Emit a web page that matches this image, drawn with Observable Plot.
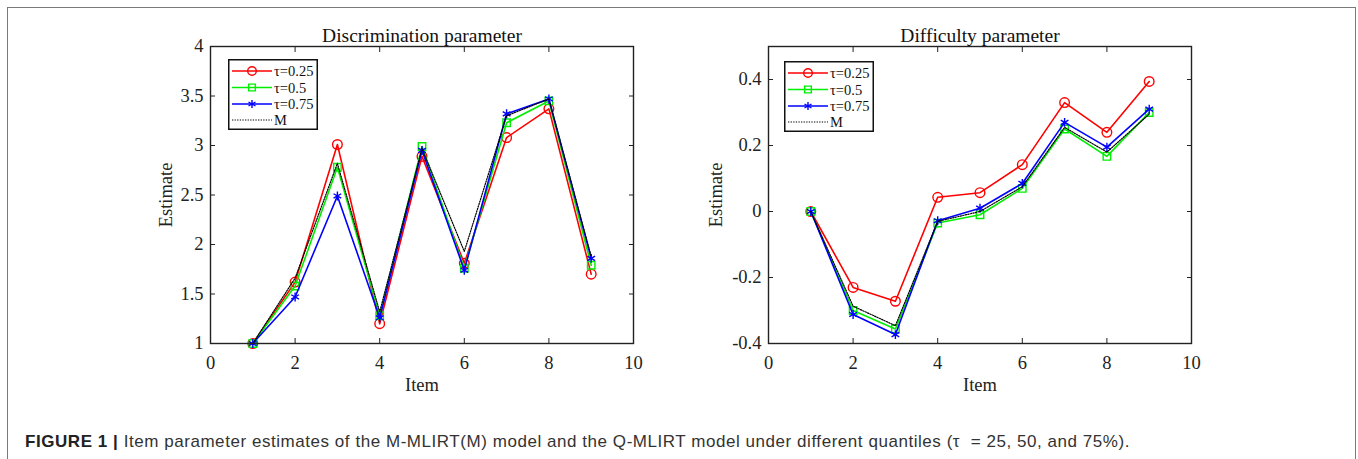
<!DOCTYPE html>
<html><head><meta charset="utf-8">
<script src="https://cdn.jsdelivr.net/npm/d3@7"></script>
<script src="https://cdn.jsdelivr.net/npm/@observablehq/plot@0.6"></script>
<style>
html,body{margin:0;padding:0;background:#fff;}
#root{position:relative;width:1358px;height:459px;overflow:hidden;background:#fff;}
#outer{position:absolute;left:7px;top:7px;width:1347px;height:480px;border:1.5px solid #7a7a7a;border-bottom:none;}
.chart{position:absolute;top:20px;}
.legend{position:absolute;}
#cap{position:absolute;left:25px;top:432px;white-space:nowrap;font-family:"Liberation Sans",Arial,sans-serif;font-size:17px;color:#333;}
#cap b{color:#222;}
</style></head>
<body><div id="root"><div id="outer"></div></div>
<script>
// ---------- data ----------
const items = [1, 2, 3, 4, 5, 6, 7, 8, 9];
const seriesNames = ["τ=0.25", "τ=0.5", "τ=0.75", "M"];
const seriesColors = ["#ff0000", "#00ee00", "#0000ff", "#000000"];
const seriesSymbols = ["circle", "square", "asterisk", null];

const discTau25 = [1.00, 1.62, 3.01, 1.20, 2.89, 1.81, 3.08, 3.37, 1.70];
const discTau50 = [1.00, 1.58, 2.78, 1.28, 2.99, 1.76, 3.23, 3.45, 1.79];
const discTau75 = [1.00, 1.47, 2.49, 1.26, 2.95, 1.74, 3.32, 3.47, 1.86];
const discM     = [1.00, 1.66, 2.82, 1.32, 2.97, 1.93, 3.30, 3.47, 1.88];

const diffTau25 = [0, -0.230, -0.272, 0.043, 0.057, 0.142, 0.330, 0.240, 0.394];
const diffTau50 = [0, -0.300, -0.356, -0.035, -0.010, 0.070, 0.250, 0.167, 0.300];
const diffTau75 = [0, -0.312, -0.373, -0.028, 0.010, 0.085, 0.270, 0.195, 0.310];
const diffM     = [0, -0.287, -0.346, -0.030, 0.000, 0.075, 0.255, 0.180, 0.295];

const xTicks = [0, 2, 4, 6, 8, 10];
const discYTicks = [1, 1.5, 2, 2.5, 3, 3.5, 4];
const diffYTicks = [-0.4, -0.2, 0, 0.2, 0.4];
const discTitle = "Discrimination parameter";
const diffTitle = "Difficulty parameter";
const xLabel = "Item";
const yLabel = "Estimate";

// ---------- helpers ----------
function tidy(arrs) {
  return arrs.flatMap((vals, si) => vals.map((v, i) => ({item: items[i], value: v, series: seriesNames[si]})));
}
const serif = "'Liberation Serif','Times New Roman',serif";

function makeChart({title, data, yDomain, yTicks, yLabelOffset}) {
  const W = 523, H = 380, mL = 80, mR = 20, mT = 26, mB = 57;
  const marks = [];
  seriesNames.forEach((s, si) => {
    const d = data.filter(r => r.series === s);
    const isM = s === "M";
    marks.push(Plot.line(d, {x: "item", y: "value", stroke: seriesColors[si],
      strokeWidth: isM ? 1.2 : 1.6, strokeDasharray: isM ? "1.3,1.3" : null}));
    if (seriesSymbols[si]) {
      marks.push(Plot.dot(d, {x: "item", y: "value", symbol: seriesSymbols[si], stroke: seriesColors[si],
        fill: "none", strokeWidth: 1.4, r: seriesSymbols[si] === "circle" ? 4.8 : 4.2}));
    }
  });
  marks.push(
    Plot.axisX(xTicks, {anchor: "bottom", tickSize: -5, tickPadding: 17, tickFormat: d => String(d),
      label: xLabel, labelArrow: "none", labelAnchor: "center", labelOffset: 47, fontSize: 18.5}),
    Plot.axisX(xTicks, {anchor: "top", tickSize: -5, tickFormat: () => "", label: null}),
    Plot.axisY(yTicks, {anchor: "left", tickSize: -5, tickPadding: 12, tickFormat: d => String(d),
      label: yLabel, labelArrow: "none", labelAnchor: "center", labelOffset: yLabelOffset, fontSize: 18.5}),
    Plot.axisY(yTicks, {anchor: "right", tickSize: -5, tickFormat: () => "", label: null}),
    Plot.frame({stroke: "#222", strokeWidth: 1.4}),
    Plot.text([title], {frameAnchor: "top", dy: -11, fontSize: 19.5, lineAnchor: "middle", fill: "#111"})
  );
  return Plot.plot({
    width: W, height: H, marginLeft: mL, marginRight: mR, marginTop: mT, marginBottom: mB,
    x: {domain: [0, 10]}, y: {domain: yDomain},
    style: {fontFamily: serif, fontSize: "18.5px", color: "#222", background: "transparent", overflow: "visible"},
    marks
  });
}

function makeLegend(left, top) {
  const w = 90, h = 71;
  const div = d3.select("#root").append("div").attr("class", "legend")
    .style("left", left + "px").style("top", top + "px");
  const svg = div.append("svg").attr("width", w).attr("height", h);
  svg.append("rect").attr("x", 0.75).attr("y", 0.75).attr("width", w - 1.5).attr("height", h - 1.5)
    .attr("fill", "#fff").attr("stroke", "#111").attr("stroke-width", 1.5);
  const rowsY = [12, 28.5, 45, 61];
  const symMap = {circle: d3.symbolCircle, square: d3.symbolSquare, asterisk: d3.symbolAsterisk};
  seriesNames.forEach((s, i) => {
    const y = rowsY[i];
    const isM = s === "M";
    svg.append("line").attr("x1", 4).attr("x2", 44).attr("y1", y).attr("y2", y)
      .attr("stroke", seriesColors[i]).attr("stroke-width", isM ? 1.2 : 1.6)
      .attr("stroke-dasharray", isM ? "1.3,1.3" : null);
    if (seriesSymbols[i]) {
      const r = seriesSymbols[i] === "circle" ? 4.3 : 3.8;
      svg.append("path").attr("transform", `translate(24,${y})`)
        .attr("d", d3.symbol(symMap[seriesSymbols[i]], Math.PI * r * r)())
        .attr("fill", "none").attr("stroke", seriesColors[i]).attr("stroke-width", 1.4);
    }
    svg.append("text").attr("x", 46).attr("y", y).attr("dy", "0.35em")
      .attr("font-family", serif).attr("font-size", 14.5).attr("fill", "#111").text(s);
  });
}

// ---------- render ----------
const left = makeChart({title: discTitle, data: tidy([discTau25, discTau50, discTau75, discM]),
  yDomain: [1, 4], yTicks: discYTicks, yLabelOffset: 52});
left.classList.add("chart"); left.style.left = "130px";
document.getElementById("root").appendChild(left);

const right = makeChart({title: diffTitle, data: tidy([diffTau25, diffTau50, diffTau75, diffM]),
  yDomain: [-0.4, 0.5], yTicks: diffYTicks, yLabelOffset: 60});
right.classList.add("chart"); right.style.left = "688px";
document.getElementById("root").appendChild(right);

makeLegend(228, 59);
makeLegend(784, 61);

const cap = document.createElement("div");
cap.id = "cap";
cap.innerHTML = "<b>FIGURE 1</b> <b>|</b> Item parameter estimates of the M-MLIRT(M) model and the Q-MLIRT model under different quantiles (τ&nbsp; = 25, 50, and 75%).";
document.getElementById("root").appendChild(cap);
const target = 1105;
const wNow = cap.getBoundingClientRect().width;
const n = cap.textContent.length;
cap.style.letterSpacing = ((target - wNow) / n).toFixed(3) + "px";
</script>
</body></html>
